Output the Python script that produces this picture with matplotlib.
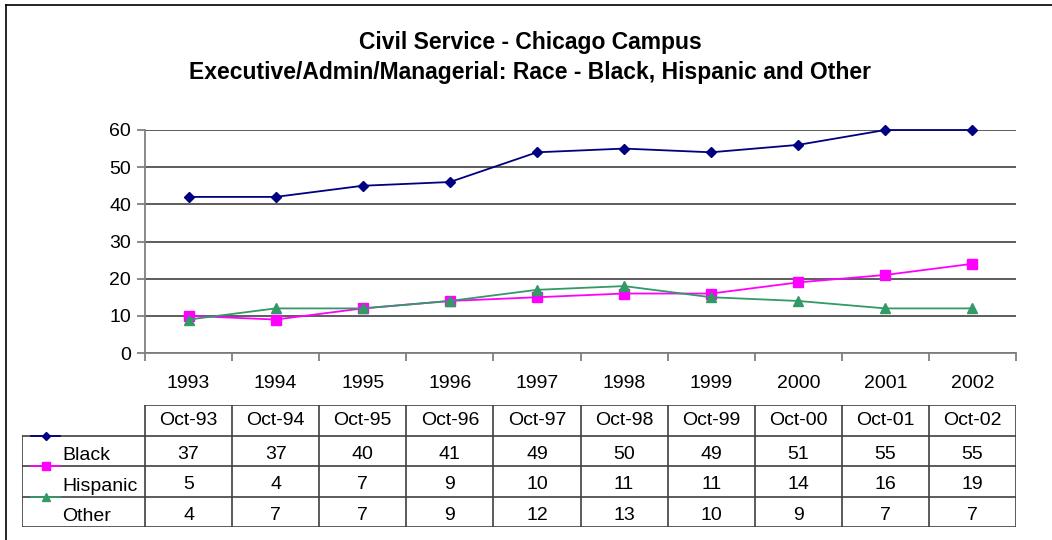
import matplotlib.pyplot as plt
from matplotlib.lines import Line2D

plt.rcParams['font.family'] = ['Liberation Sans', 'DejaVu Sans']

years = ['1993', '1994', '1995', '1996', '1997', '1998', '1999', '2000', '2001', '2002']
months = ['Oct-93', 'Oct-94', 'Oct-95', 'Oct-96', 'Oct-97', 'Oct-98', 'Oct-99', 'Oct-00', 'Oct-01', 'Oct-02']

# values as drawn by the lines
black_line = [42, 42, 45, 46, 54, 55, 54, 56, 60, 60]
hispanic_line = [10, 9, 12, 14, 15, 16, 16, 19, 21, 24]
other_line = [9, 12, 12, 14, 17, 18, 15, 14, 12, 12]

# values as printed in the table
black_tab = [37, 37, 40, 41, 49, 50, 49, 51, 55, 55]
hispanic_tab = [5, 4, 7, 9, 10, 11, 11, 14, 16, 19]
other_tab = [4, 7, 7, 9, 12, 13, 10, 9, 7, 7]

series = [
    ('Black', black_line, black_tab, '#000080', 'D', 5),
    ('Hispanic', hispanic_line, hispanic_tab, '#FF00FF', 's', 6.5),
    ('Other', other_line, other_tab, '#339966', '^', 6.5),
]

W, H = 1052, 540
fig = plt.figure(figsize=(W / 100, H / 100), dpi=100)
FS = 14

def px_rect(x0, y0, x1, y1):
    return [x0 / W, 1 - y1 / H, (x1 - x0) / W, (y1 - y0) / H]

# outer frame (top and left edges visible)
fig.add_artist(Line2D([6 / W, 1], [1 - 5 / H, 1 - 5 / H], color='black', lw=1.2))
fig.add_artist(Line2D([6 / W, 6 / W], [0, 1 - 5 / H], color='black', lw=1.2))

fig.text(0.504, 1 - 43 / H, 'Civil Service - Chicago Campus', ha='center', va='center',
         fontsize=16.5, fontweight='bold')
fig.text(0.504, 1 - 72 / H, 'Executive/Admin/Managerial: Race - Black, Hispanic and Other',
         ha='center', va='center', fontsize=16.5, fontweight='bold')

ax = fig.add_axes(px_rect(145, 130, 1016, 353))
x = list(range(len(years)))
for name, vals, tab, col, mk, ms in series:
    ax.plot(x, vals, color=col, marker=mk, markersize=ms, lw=1.3, markeredgecolor=col,
            clip_on=False, zorder=3)

ax.set_xlim(-0.5, len(years) - 0.5)
ax.set_ylim(0, 60)
ax.set_yticks(range(0, 61, 10))
ax.yaxis.grid(True, color='#303030', lw=1.1)
ax.set_axisbelow(True)
for s in ['top', 'right']:
    ax.spines[s].set_visible(False)
ax.spines['left'].set_color('#808080')
ax.spines['bottom'].set_color('#808080')
ax.spines['left'].set_linewidth(1.3)
ax.spines['bottom'].set_linewidth(1.3)
ax.set_xticks([i - 0.5 for i in range(len(years) + 1)])
ax.set_xticklabels([])
ax.set_xticks(x, minor=True)
ax.set_xticklabels(years, minor=True, fontsize=FS)
ax.tick_params(axis='x', which='major', length=6, color='#808080', width=1.3)
ax.tick_params(axis='x', which='minor', length=0, pad=16)
ax.tick_params(axis='y', length=6, color='#808080', width=1.3, labelsize=FS, pad=4)

# data table below the chart
first_w = 123 / 87.1
tab_ax = fig.add_axes(px_rect(22, 405, 1016, 527))
tab_ax.set_xlim(-0.5 - first_w, len(years) - 0.5)
tab_ax.set_ylim(0, 4)
tab_ax.axis('off')
lc = '#404040'
left = -0.5 - first_w
right = len(years) - 0.5
# horizontal lines
tab_ax.plot([-0.5, right], [4, 4], color=lc, lw=1.2)
for yy in [3, 2, 1, 0]:
    tab_ax.plot([left, right], [yy, yy], color=lc, lw=1.2)
# vertical lines
tab_ax.plot([left, left], [0, 3], color=lc, lw=1.2)
for i in range(len(years) + 1):
    tab_ax.plot([i - 0.5, i - 0.5], [0, 4], color=lc, lw=1.2)

for i, m in enumerate(months):
    tab_ax.text(i, 3.48, m, ha='center', va='center', fontsize=FS)

for r, (name, vals, tab, col, mk, ms) in enumerate(series):
    ytop = 3 - r
    mx0 = left + 0.1
    tab_ax.plot([mx0, mx0 + 0.34], [ytop, ytop], color=col, lw=1.3, zorder=3)
    tab_ax.plot([mx0 + 0.17], [ytop], color=col, marker=mk, markersize=ms - 0.5, zorder=3)
    tab_ax.text(left + 0.46, ytop - 0.66, name, ha='left', va='center', fontsize=FS)
    for i, v in enumerate(tab):
        tab_ax.text(i, ytop - 0.62, str(v), ha='center', va='center', fontsize=FS)

fig.savefig('out.png', dpi=100)
